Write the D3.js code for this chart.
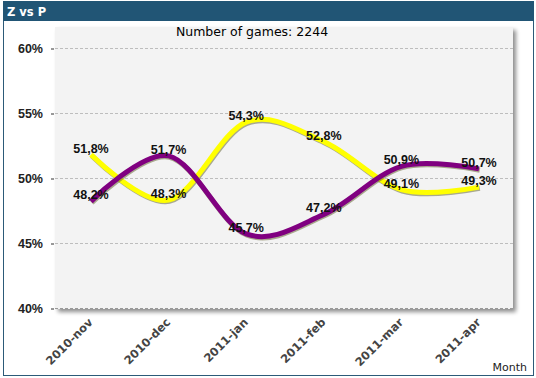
<!DOCTYPE html>
<html>
<head>
<meta charset="utf-8">
<script src="https://cdn.jsdelivr.net/npm/d3@7"></script>
<style>
	body { margin: 0; background: #fff; }
	svg { display: block; }
</style>
</head>
<body>
<svg id="chart" width="536" height="378"></svg>
<script>
// data
const months = ['2010-nov', '2010-dec', '2011-jan', '2011-feb', '2011-mar', '2011-apr'];
const zValues = [51.8, 48.3, 54.3, 52.8, 49.1, 49.3];
const pValues = [48.2, 51.7, 45.7, 47.2, 50.9, 50.7];
const yTicks = [40, 45, 50, 55, 60];
const gamesCount = 2244;

const svg = d3.select('#chart');

// frame + header
svg.append('rect')
	.attr('x', 3.5).attr('y', 1.5).attr('width', 530).attr('height', 374)
	.attr('fill', '#fff').attr('stroke', '#2c5a78').attr('stroke-width', 1);
svg.append('rect')
	.attr('x', 3).attr('y', 1).attr('width', 531).attr('height', 20)
	.attr('fill', '#215575');
svg.append('text')
	.attr('x', 7).attr('y', 16)
	.attr('font-family', 'DejaVu Sans')
	.attr('font-size', '11.5px')
	.attr('font-weight', 'bold')
	.attr('fill', '#fff')
	.text('Z vs P');

const plot = { left: 55, right: 513, top: 27, bottom: 309 };

const x = d3.scalePoint().domain(months).range([91, 479]);
const y = d3.scaleLinear().domain([40, 60]).range([308, 48]);

// plot background with soft shadow
const defs = svg.append('defs');
const f = defs.append('filter').attr('id', 'shadow').attr('x', '-5%').attr('y', '-5%').attr('width', '115%').attr('height', '115%');
f.append('feGaussianBlur').attr('in', 'SourceAlpha').attr('stdDeviation', 2);
f.append('feOffset').attr('dx', 3).attr('dy', 3).attr('result', 'b');
f.append('feComponentTransfer').append('feFuncA').attr('type', 'linear').attr('slope', 0.45);
const m = f.append('feMerge');
m.append('feMergeNode');
m.append('feMergeNode').attr('in', 'SourceGraphic');

svg.append('rect')
	.attr('x', plot.left).attr('y', plot.top)
	.attr('width', plot.right - plot.left).attr('height', plot.bottom - plot.top)
	.attr('fill', '#f3f3f3')
	.attr('filter', 'url(#shadow)');

// grid
svg.append('g').selectAll('line')
	.data(yTicks)
	.enter()
	.append('line')
	.attr('x1', plot.left).attr('x2', plot.right)
	.attr('y1', d => y(d) + 0.5).attr('y2', d => y(d) + 0.5)
	.attr('stroke', d => d == 40 ? '#999' : '#bdbdbd')
	.attr('stroke-dasharray', '3,2');

// y axis
const yAxis = svg.append('g')
	.attr('transform', `translate(${plot.left - 1},0)`)
	.call(d3.axisLeft(y).tickValues(yTicks).tickSize(3).tickPadding(8).tickFormat(d => d + '%'));
yAxis.select('.domain').remove();
yAxis.selectAll('line').attr('stroke', '#333').attr('transform', 'translate(0,0.5)');
yAxis.selectAll('text')
	.attr('font-family', 'Liberation Sans, Arial, sans-serif')
	.attr('font-size', '12.5px')
	.attr('font-weight', 'bold')
	.attr('fill', '#222');

// x axis labels
const xAxis = svg.append('g')
	.attr('transform', `translate(0,${plot.bottom})`)
	.call(d3.axisBottom(x).tickSize(0).tickPadding(0));
xAxis.select('.domain').remove();
xAxis.selectAll('text')
	.attr('font-family', 'DejaVu Sans, sans-serif')
	.attr('font-size', '11.5px')
	.attr('font-weight', 'bold')
	.attr('fill', '#444')
	.attr('text-anchor', 'end')
	.attr('dy', null)
	.attr('transform', 'translate(2,14) rotate(-45)');

svg.append('text')
	.attr('x', 527).attr('y', 371)
	.attr('text-anchor', 'end')
	.attr('font-family', 'DejaVu Sans, sans-serif')
	.attr('font-size', '11px')
	.attr('fill', '#222')
	.text('Month');

// title
svg.append('text')
	.attr('x', 252).attr('y', 36)
	.attr('text-anchor', 'middle')
	.attr('font-family', 'DejaVu Sans, sans-serif')
	.attr('font-size', '12.5px')
	.attr('fill', '#000')
	.text(`Number of games: ${gamesCount}`);

// lines
const line = d3.line()
	.x((d, i) => x(months[i]))
	.y(d => y(d))
	.curve(d3.curveCatmullRom.alpha(0));

const series = [
	{ values: zValues, color: '#ffff00' },
	{ values: pValues, color: '#800080' }
];

for(let s of series) {
	svg.append('path')
		.attr('d', line(s.values))
		.attr('fill', 'none')
		.attr('stroke', '#6b6b3a')
		.attr('stroke-opacity', 0.55)
		.attr('stroke-width', 5)
		.attr('transform', 'translate(0.8,1.3)');
	svg.append('path')
		.attr('d', line(s.values))
		.attr('fill', 'none')
		.attr('stroke', s.color)
		.attr('stroke-width', 5);
}

// value labels
for(let s of series) {
	svg.append('g').selectAll('text')
		.data(s.values)
		.enter()
		.append('text')
		.attr('x', (d, i) => x(months[i]))
		.attr('y', d => y(d) - 2)
		.attr('text-anchor', 'middle')
		.attr('font-family', 'Liberation Sans, Arial, sans-serif')
		.attr('font-size', '12.5px')
		.attr('font-weight', 'bold')
		.attr('fill', '#111')
		.text(d => d.toFixed(1).replace('.', ',') + '%');
}
</script>
</body>
</html>
